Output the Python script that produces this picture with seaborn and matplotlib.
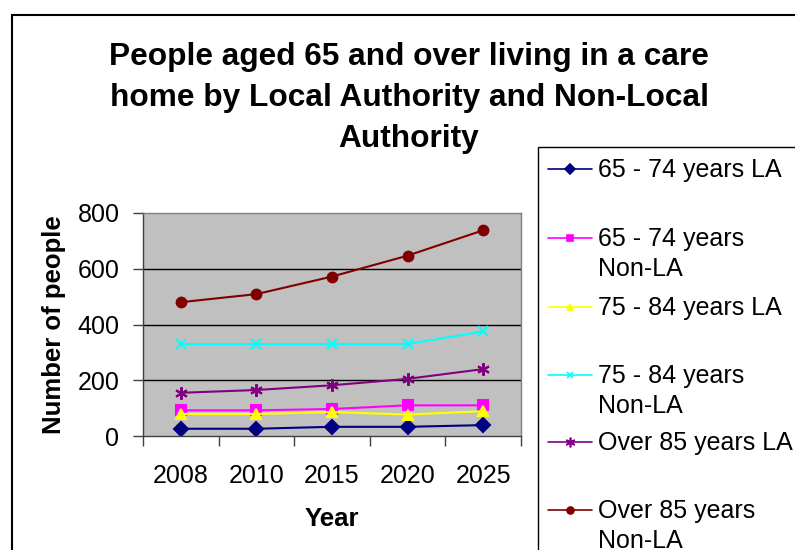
import seaborn as sns
import pandas as pd
from matplotlib import pyplot as plt
from matplotlib.lines import Line2D
from matplotlib.patches import Rectangle

years = ['2008', '2010', '2015', '2020', '2025']
la_65_74 = [26, 26, 33, 33, 39]
nonla_65_74 = [92, 92, 97, 110, 110]
la_75_84 = [79, 79, 86, 77, 89]
nonla_75_84 = [330, 330, 330, 330, 375]
la_over85 = [155, 165, 182, 205, 240]
nonla_over85 = [480, 509, 572, 647, 738]

series_names = ['65 - 74 years LA', '65 - 74 years Non-LA', '75 - 84 years LA',
                '75 - 84 years Non-LA', 'Over 85 years LA', 'Over 85 years Non-LA']
legend_labels = ['65 - 74 years LA', '65 - 74 years\nNon-LA', '75 - 84 years LA',
                 '75 - 84 years\nNon-LA', 'Over 85 years LA', 'Over 85 years\nNon-LA']
colors = ['#000080', '#FF00FF', '#FFFF00', '#00FFFF', '#800080', '#800000']
markers = ['D', 's', '^', 'x', (6, 2, 0), 'o']
msizes = [7, 7, 7, 7, 9, 7]
all_vals = [la_65_74, nonla_65_74, la_75_84, nonla_75_84, la_over85, nonla_over85]

sns.set_style('white')
plt.rcParams['font.family'] = ['Liberation Sans', 'DejaVu Sans']
plt.rcParams['text.color'] = 'black'
plt.rcParams['axes.labelcolor'] = 'black'
plt.rcParams['xtick.color'] = 'black'
plt.rcParams['ytick.color'] = 'black'

fig = plt.figure(figsize=(7.95, 5.5), dpi=100)
ax = fig.add_axes([143/795, 1-436/550, (521-143)/795, (436-213)/550])
ax.set_facecolor('#C0C0C0')

for name, vals, c, m, ms in zip(series_names, all_vals, colors, markers, msizes):
    d = pd.DataFrame({'idx': range(len(years)), 'Number of people': vals})
    sns.lineplot(data=d, x='idx', y='Number of people', color=c, marker=m,
                 linewidth=1.5, markersize=ms, markeredgewidth=1.5,
                 markeredgecolor=c, ax=ax, label=name, legend=False)

ax.set_xlim(-0.5, 4.5)
ax.set_ylim(0, 800)
ax.set_yticks([0, 200, 400, 600, 800])
ax.set_xticks(range(len(years)))
ax.set_xticklabels(years)
ax.set_xticks([i - 0.5 for i in range(len(years) + 1)], minor=True)
ax.tick_params(axis='x', which='major', length=0, labelsize=18, pad=20)
ax.tick_params(axis='x', which='minor', length=7, width=1, color='#404040', direction='out')
ax.tick_params(axis='y', length=7, width=1, color='#404040', labelcolor='black',
               direction='out', labelsize=18, pad=10)
ax.tick_params(bottom=True, left=True, which='both')
for y in [200, 400, 600]:
    ax.axhline(y, color='black', linewidth=1, zorder=0.5)
for side in ['top', 'right']:
    ax.spines[side].set_color('#808080')
    ax.spines[side].set_linewidth(1)
for side in ['left', 'bottom']:
    ax.spines[side].set_color('#404040')
    ax.spines[side].set_linewidth(1)
ax.set_xlabel('Year', fontsize=18.5, fontweight='bold', labelpad=14)
ax.set_ylabel('Number of people', fontsize=18.5, fontweight='bold', labelpad=8)

fig.text(409/795, 1-98/550, 'People aged 65 and over living in a care\nhome by Local Authority and Non-Local\nAuthority',
         ha='center', va='center', fontsize=22.8, fontweight='bold', linespacing=1.5)

# chart area border and legend box
fig.patches.append(Rectangle((12/795, -0.1), 1.1, 1-15/550+0.1, transform=fig.transFigure,
                             fill=False, edgecolor='black', linewidth=1.5))
fig.patches.append(Rectangle((538/795, -0.1), 0.5, 1-147/550+0.1, transform=fig.transFigure,
                             fill=False, edgecolor='black', linewidth=1))

tops = [169, 238, 307, 375, 442, 510]
for lab, c, m, ms, yy in zip(legend_labels, colors, markers, msizes, tops):
    yf = 1 - yy/550
    fig.add_artist(Line2D([548/795, 592/795], [yf, yf], color=c, linewidth=1.2,
                          transform=fig.transFigure))
    fig.add_artist(Line2D([570/795], [yf], color=c, marker=m, markersize=ms - 2,
                          markeredgecolor=c, markeredgewidth=1.2, transform=fig.transFigure))
    fig.text(598/795, yf + 11/550, lab, ha='left', va='top', fontsize=18, linespacing=1.3)

fig.savefig('out.png', dpi=100)
